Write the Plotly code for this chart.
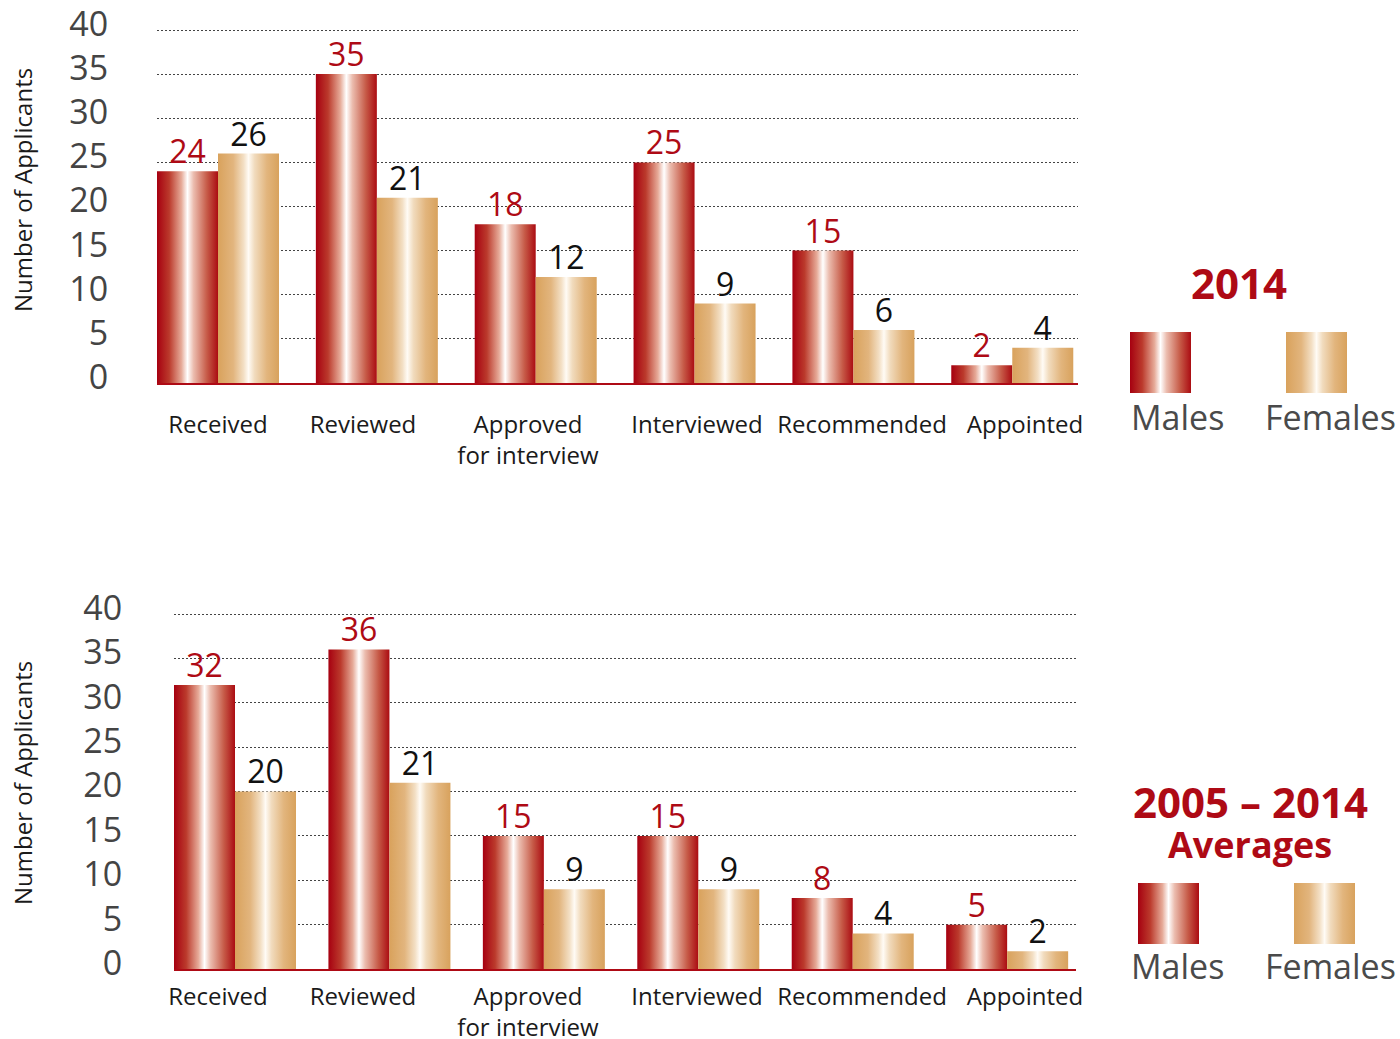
import plotly.graph_objects as go

# ---------------- data ----------------
categories = ["Received", "Reviewed", "Approved<br>for interview", "Interviewed", "Recommended", "Appointed"]
males_2014 = [24, 35, 18, 25, 15, 2]
females_2014 = [26, 21, 12, 9, 6, 4]
males_avg = [32, 36, 15, 15, 8, 5]
females_avg = [20, 21, 9, 9, 4, 2]
y_ticks = [0, 5, 10, 15, 20, 25, 30, 35, 40]
title_top = "2014"
title_bottom = ["2005 – 2014", "Averages"]
legend_names = ["Males", "Females"]
y_title = "Number of Applicants"

# ---------------- styles / layout ----------------
W, H = 1400, 1039
RED = "#ae0a15"
FONT = "Open Sans"
# pixel centres where the category labels sit (same in both panels)
label_px = [218, 363, 528, 697, 862, 1025]
male_cs = [[0, "#a60010"], [0.2, "#bb3a2c"], [0.4, "#e6aa98"], [0.5, "#ffffff"],
           [0.6, "#ebbcae"], [0.82, "#c65a47"], [1, "#ab0c12"]]
female_cs = [[0, "#d9a25c"], [0.25, "#e2b57e"], [0.42, "#f3dfc4"], [0.5, "#fffbf5"],
             [0.6, "#f1dbbd"], [0.8, "#e2b57d"], [1, "#d8a25d"]]

fig = go.Figure()


def rect(x0, x1, y0, y1, cs, xa, ya):
    fig.add_trace(go.Scatter(
        x=[x0, x1, x1, x0, x0], y=[y0, y0, y1, y1, y0],
        mode="lines", fill="toself", line=dict(width=0, color="rgba(0,0,0,0)"),
        fillgradient=dict(type="horizontal", colorscale=cs),
        xaxis=xa, yaxis=ya, hoverinfo="skip", showlegend=False))


def panel(males, females, w, xa, ya):
    for i, (m, f) in enumerate(zip(males, females)):
        rect(i - w, i, 0, m, male_cs, xa, ya)
        rect(i, i + w, 0, f, female_cs, xa, ya)
    idx = list(range(len(males)))
    fig.add_trace(go.Scatter(
        x=[i - w / 2 for i in idx], y=males, mode="text", text=[str(v) for v in males],
        textposition="top center", textfont=dict(size=32, color=RED, family=FONT),
        xaxis=xa, yaxis=ya, hoverinfo="skip", showlegend=False, cliponaxis=False))
    fig.add_trace(go.Scatter(
        x=[i + w / 2 for i in idx], y=females, mode="text", text=[str(v) for v in females],
        textposition="top center", textfont=dict(size=32, color="#111111", family=FONT),
        xaxis=xa, yaxis=ya, hoverinfo="skip", showlegend=False, cliponaxis=False))


w_top = 0.384
w_bot = 0.395
panel(males_2014, females_2014, w_top, "x", "y")
panel(males_avg, females_avg, w_bot, "x2", "y2")

# legend swatches on a pixel overlay axis
rect(1130, 1191, 332, 393, male_cs, "x3", "y3")
rect(1286, 1347, 332, 393, female_cs, "x3", "y3")
rect(1138, 1199, 883, 944, male_cs, "x3", "y3")
rect(1294, 1355, 883, 944, female_cs, "x3", "y3")


def xaxis_cfg(x0px, x1px, w, yanchor, standoff):
    unit = 61 / w
    return dict(domain=[x0px / W, x1px / W], range=[-w, -w + (x1px - x0px) / unit],
                tickvals=[-w + (p - x0px) / unit for p in label_px], ticktext=categories,
                showgrid=False, zeroline=False, showline=True, linecolor=RED, linewidth=2,
                ticks="outside", ticklen=0, ticklabelstandoff=standoff, automargin=False,
                ticklabeloverflow="allow",
                tickfont=dict(size=24, color="#1a1a1a", family=FONT), anchor=yanchor,
                fixedrange=True)


YMAX = 40.4


def yaxis_cfg(y0px, y40px, standoff, xanchor):
    per = (y0px - y40px) / 40
    ytop = y0px - YMAX * per
    return dict(domain=[1 - y0px / H, 1 - ytop / H], range=[0, YMAX], tickvals=y_ticks,
                showgrid=True, gridcolor="#444444", griddash="1.5px,2.5px", gridwidth=1,
                zeroline=False, showline=False, ticks="outside", ticklen=0,
                ticklabelstandoff=standoff, ticklabelshift=-6, automargin=False,
                ticklabeloverflow="allow",
                tickfont=dict(size=34, color="#444444", family=FONT), anchor=xanchor,
                fixedrange=True)


fig.update_layout(
    width=W, height=H, margin=dict(l=0, r=0, t=0, b=0, autoexpand=False),
    paper_bgcolor="white", plot_bgcolor="rgba(0,0,0,0)", showlegend=False,
    xaxis=xaxis_cfg(157, 1078, w_top, "y", 19),
    yaxis=yaxis_cfg(383, 30, 41, "x"),
    xaxis2=xaxis_cfg(174, 1076, w_bot, "y2", 5),
    yaxis2=yaxis_cfg(969, 614, 44, "x2"),
    xaxis3=dict(domain=[0, 1], range=[0, W], visible=False, anchor="y3", fixedrange=True,
                automargin=False),
    yaxis3=dict(domain=[0, 1], range=[H, 0], visible=False, anchor="x3", fixedrange=True,
                automargin=False),
)


def ann(text, xpx, ypx, size, color, bold=False, angle=0):
    fig.add_annotation(x=xpx / W, y=1 - ypx / H, xref="paper", yref="paper",
                       text=f"<b>{text}</b>" if bold else text, showarrow=False,
                       textangle=angle, xanchor="center", yanchor="middle",
                       font=dict(size=size, color=color, family=FONT))


ann(y_title, 22, 190, 24, "#1a1a1a", angle=-90)
ann(y_title, 22, 783, 24, "#1a1a1a", angle=-90)
ann(title_top, 1239, 282, 42, RED, bold=True)
ann(title_bottom[0], 1250, 801, 42, RED, bold=True)
ann(title_bottom[1], 1250, 844, 36, RED, bold=True)
ann(legend_names[0], 1177, 417, 34, "#4a4a4a")
ann(legend_names[1], 1330, 417, 34, "#4a4a4a")
ann(legend_names[0], 1177, 966, 34, "#4a4a4a")
ann(legend_names[1], 1330, 966, 34, "#4a4a4a")

fig.write_html("out.html")
